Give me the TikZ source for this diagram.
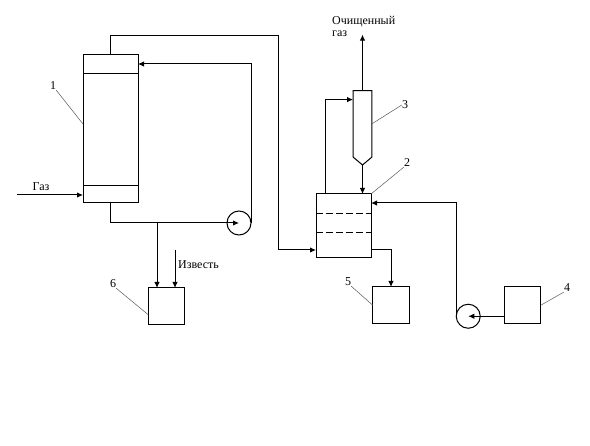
\documentclass[tikz,border=0pt]{standalone}
\usepackage{fontspec}
\setmainfont{Liberation Serif}
\usetikzlibrary{arrows.meta, positioning, calc}

\begin{document}
\begin{tikzpicture}[
    x=1pt, y=-1pt,
    font=\fontsize{12}{12}\selectfont,
    vessel/.style={draw=black, line width=1pt, inner sep=0pt, outer sep=0pt},
    tank/.style={vessel, minimum width=36.5pt, minimum height=36.5pt},
    pump/.style={vessel, circle, minimum size=24pt},
    lbl/.style={inner sep=0pt},
    arr/.style={-{Latex[length=6pt, width=5.5pt]}, draw=black, line width=1pt},
    thin line/.style={draw=black, line width=0.9pt},
    leader/.style={draw=black!65, line width=0.5pt}
]
\useasboundingbox (0,0) rectangle (590,446);

% first stage
\node[vessel, minimum width=55pt, minimum height=148pt] (col) at (110.5,129) {};
\node[pump, right=89pt of col.south east, yshift=-20pt] (pump1) {};
\node[tank, below=85pt of col.south, xshift=56pt] (tank6) {};

\draw[thin line] ([yshift=-18pt]col.north west) -- ([yshift=-18pt]col.north east);
\draw[thin line] ([yshift=18pt]col.south west) -- ([yshift=18pt]col.south east);

% second stage
\node[vessel, minimum width=55pt, minimum height=64pt, right=178pt of col.south east, yshift=-23pt] (scrub) {};
\node[inner sep=0pt, minimum width=18.5pt, minimum height=66pt, above=37pt of scrub.north, xshift=19pt] (cyc) {};
\coordinate (tip) at ($(cyc.south)+(0,8)$);
\draw[vessel] (cyc.south west) -- (cyc.north west) -- (cyc.north east) -- (cyc.south east) -- (tip) -- cycle;
\node[tank, below=29pt of scrub.south, xshift=47.5pt] (tank5) {};
\node[tank, right=95pt of tank5] (tank4) {};
\node[pump, left=24pt of tank4, yshift=-11pt] (pump2) {};

\draw[thin line, dash pattern=on 7pt off 3pt] ([yshift=-19pt]scrub.north west) -- ([yshift=-19pt]scrub.north east);
\draw[thin line, dash pattern=on 7pt off 3pt] ([yshift=-38pt]scrub.north west) -- ([yshift=-38pt]scrub.north east);

% free ends
\coordinate (gasin) at (17,195);
\coordinate (tee) at (157,223);
\coordinate (limein) at (175,250);
\coordinate (stackturn) at (278,36);
\coordinate[above=56pt of cyc.north] (vent);

% pipes
\draw[arr] (gasin) -- (gasin -| col.west);
\draw[arr] (col.south) |- (pump1.center);
\draw[arr] (pump1.east) |- ([yshift=65pt]col.east);
\draw[arr] (tee) -- (tee |- tank6.north);
\draw[arr] (limein) -- (limein |- tank6.north);
\draw[arr] (col.north) |- (stackturn) |- ([yshift=-24pt]scrub.west);
\draw[arr] ([xshift=-18.5pt]scrub.north) |- ([yshift=-9pt]cyc.north west);
\draw[arr] (tip) -- (tip |- scrub.north);
\draw[arr] (cyc.north) -- (vent);
\draw[arr] ([yshift=-24pt]scrub.east) -| (tank5.north);
\draw[arr] (pump2.west) |- ([yshift=23pt]scrub.east);
\draw[arr] (pump2 -| tank4.west) -- (pump2.center);

% texts
\node[lbl] (gas) at (41,187) {Газ};
\node[lbl, anchor=west] (lime) at (178,265) {Известь};
\node[lbl, anchor=north west, align=left] (clean) at (332,16) {Очищенный\\газ};

% numbers
\node[lbl] (n1) at (53,86) {1};
\node[lbl] (n2) at (407,163) {2};
\node[lbl] (n3) at (405,105) {3};
\node[lbl] (n4) at (567,288) {4};
\node[lbl] (n5) at (348,282) {5};
\node[lbl] (n6) at (113,284) {6};

\draw[leader] (n1.south east) -- ([yshift=5pt]col.west);
\draw[leader] (n2.south west) -- (scrub.north east);
\draw[leader] (n3.west) -- (cyc.east);
\draw[leader] (n4.south west) -- (tank4.east);
\draw[leader] (n5.south east) -- (tank5.west);
\draw[leader] (n6.south east) -- ([yshift=-8.5pt]tank6.west);
\end{tikzpicture}
\end{document}
